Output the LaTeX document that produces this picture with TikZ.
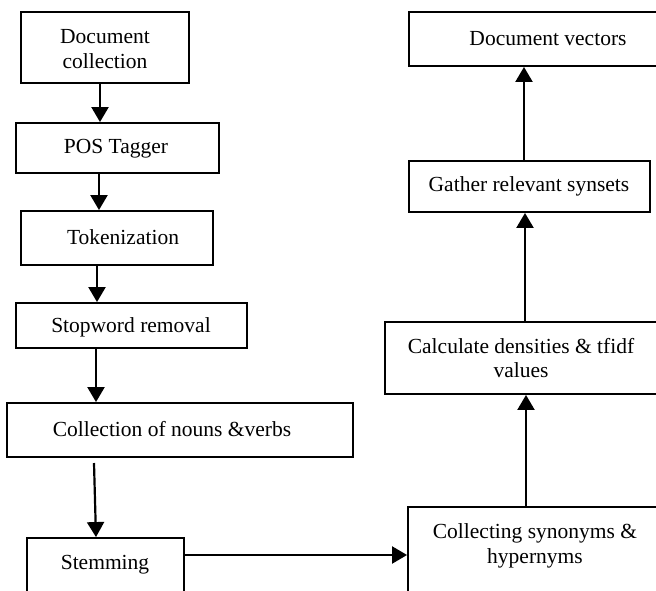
\documentclass[tikz,border=0pt]{standalone}
\usepackage{fontspec}
\setmainfont{Liberation Serif}
\usetikzlibrary{arrows.meta,fit}
\begin{document}
\begin{tikzpicture}[x=1pt,y=-1pt,
  stepbox/.style={draw, line width=1.9pt, inner sep=0pt},
  lbl/.style={font=\fontsize{21.5}{24.5}\selectfont, align=center, inner sep=0pt},
  flow/.style={line width=2.2pt, -{Triangle[width=17pt,length=15pt]}}]
\useasboundingbox (0,0) rectangle (656,590);

% left column: preprocessing
\node[stepbox, fit={(21,12) (189,83)}] (doc) {};
\node[lbl] (doct) at (105,49) {Document\\collection};
\node[stepbox, fit={(16,123) (219,173)}] (pos) {};
\node[lbl] (post) at (116,149) {POS Tagger};
\node[stepbox, fit={(21,211) (213,265)}] (tok) {};
\node[lbl] (tokt) at (123,237) {Tokenization};
\node[stepbox, fit={(16,303) (247,348)}] (stop) {};
\node[lbl] (stopt) at (131,327) {Stopword removal};
\node[stepbox, fit={(7,403) (353,457)}] (coll) {};
\node[lbl] (collt) at (172,429) {Collection of nouns \&verbs};
\node[stepbox, fit={(27,538) (184,640)}] (stem) {};
\node[lbl] (stemt) at (105,565) {Stemming};

% right column: semantic processing
\node[stepbox, fit={(408,507) (662,640)}] (syn) {};
\node[lbl] (synt) at (535,546) {Collecting synonyms \&\\hypernyms};
\node[stepbox, fit={(385,322) (658,394)}] (calc) {};
\node[lbl] (calct) at (521,358) {Calculate densities \& tfidf\\values};
\node[stepbox, fit={(409,161) (650,212)}] (gath) {};
\node[lbl] (gatht) at (529,186) {Gather relevant synsets};
\node[stepbox, fit={(409,12) (687,66)}] (vec) {};
\node[lbl] (vect) at (548,39) {Document vectors};

% arrow columns
\coordinate (a1) at (100,0);
\coordinate (a2) at (99,0);
\coordinate (a3) at (97,0);
\coordinate (a4) at (96,0);
\coordinate (a5) at (94,463);
\coordinate (a6) at (96,0);
\coordinate (b1) at (526,0);
\coordinate (b2) at (525,0);
\coordinate (b3) at (524,0);
\coordinate (h1) at (0,555);

\draw[flow] (doc.south -| a1) -- (pos.north -| a1);
\draw[flow] (pos.south -| a2) -- (tok.north -| a2);
\draw[flow] (tok.south -| a3) -- (stop.north -| a3);
\draw[flow] (stop.south -| a4) -- (coll.north -| a4);
\draw[flow] (a5) -- (stem.north -| a6);
\draw[flow] (stem.east |- h1) -- (syn.west |- h1);
\draw[flow] (syn.north -| b1) -- (calc.south -| b1);
\draw[flow] (calc.north -| b2) -- (gath.south -| b2);
\draw[flow] (gath.north -| b3) -- (vec.south -| b3);
\end{tikzpicture}
\end{document}
